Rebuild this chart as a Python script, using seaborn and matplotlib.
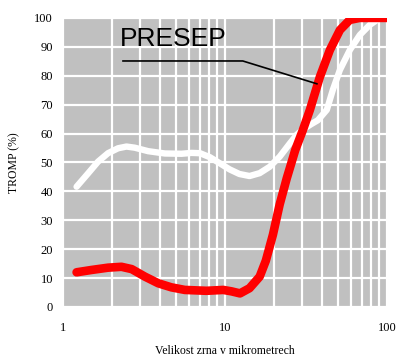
import numpy as np
import pandas as pd
import matplotlib
matplotlib.use("Agg")
import matplotlib.pyplot as plt
import seaborn as sns

# -- data -------------------------------------------------------------------
white_x = [1.215, 1.43, 1.65, 1.90, 2.19, 2.47, 2.78, 3.36, 4.26, 5.40, 6.23,
           7.02, 8.09, 9.31, 10.7, 12.3, 14.2, 16.4, 18.9, 21.8, 25.2, 27.7,
           30.3, 34.0, 37.5, 42.6, 46.4, 51.3, 59.1, 68.1, 78.5, 88.0]
white_y = [41.6, 46.2, 50.3, 53.2, 54.9, 55.5, 55.1, 53.9, 53.1, 53.0, 53.3,
           53.2, 51.8, 49.7, 47.6, 46.0, 45.3, 46.3, 48.5, 52.0, 56.6, 59.5,
           61.4, 63.2, 64.6, 68.2, 75.1, 82.0, 88.9, 94.1, 97.6, 99.5]

red_x = [1.215, 1.50, 1.90, 2.30, 2.66, 3.21, 3.88, 4.67, 5.66, 7.7, 9.77,
         11.0, 12.4, 14.2, 16.4, 17.9, 19.8, 21.8, 24.1, 27.2, 30.3, 33.5,
         38.6, 44.5, 51.3, 59.0, 68.0, 100.0]
red_y = [12.0, 12.8, 13.6, 13.9, 13.1, 10.5, 8.2, 6.8, 5.9, 5.6, 5.9,
         5.4, 4.7, 6.5, 10.5, 16.0, 25.0, 35.5, 44.5, 54.3, 61.2, 68.2,
         79.6, 88.9, 95.8, 99.3, 100.0, 100.0]

label_text = "PRESEP"
label_pos = (2.25, 90.3)
leader_x = [2.35, 12.9, 37.0]
leader_y = [85.1, 85.1, 77.2]

x_ticks = [1, 10, 100]
x_minor = [2, 3, 4, 5, 6, 7, 8, 9, 20, 30, 40, 50, 60, 70, 80, 90]
y_ticks = list(range(0, 101, 10))

# -- style --------------------------------------------------------------------
sns.set_style({"axes.facecolor": "#c0c0c0", "grid.color": "white",
               "axes.grid": True, "axes.edgecolor": "none"})
plt.rcParams["font.family"] = ["Liberation Serif", "DejaVu Serif"]

fig = plt.figure(figsize=(3.98, 3.58), dpi=100)
ax = fig.add_axes([0.158, 0.1425, 0.814, 0.8075])

white = pd.DataFrame({"x": white_x, "y": white_y})
red = pd.DataFrame({"x": red_x, "y": red_y})

sns.lineplot(data=white, x="x", y="y", color="white", linewidth=4.6, ax=ax,
             solid_capstyle="round", solid_joinstyle="round", zorder=3)
sns.lineplot(data=red, x="x", y="y", color="#ff0000", linewidth=6.2, ax=ax,
             solid_capstyle="round", solid_joinstyle="round", zorder=4)

ax.plot(leader_x, leader_y, color="black", linewidth=1.2, zorder=5)
ax.text(label_pos[0], label_pos[1], label_text, fontsize=19,
        family=["Liberation Sans", "DejaVu Sans"], color="black", zorder=6)

ax.set_xscale("log")
ax.set_xlim(1, 100)
ax.set_ylim(0, 100)
ax.set_xticks(x_ticks)
ax.set_xticklabels([str(t) for t in x_ticks])
ax.set_xticks(x_minor, minor=True)
ax.set_xticklabels([], minor=True)
ax.set_yticks(y_ticks)

ax.grid(True, which="both", axis="x", color="white", linewidth=1.6)
ax.grid(True, which="major", axis="y", color="white", linewidth=1.6)
ax.tick_params(axis="both", which="both", length=0, labelsize=9)
ax.tick_params(axis="x", pad=11)
ax.tick_params(axis="y", pad=7)
for s in ax.spines.values():
    s.set_visible(False)

ax.set_xlabel("Velikost zrna v mikrometrech", fontsize=8.5, labelpad=8)
ax.set_ylabel("TROMP (%)", fontsize=8.5, labelpad=10)

fig.savefig("out.png", dpi=100)
